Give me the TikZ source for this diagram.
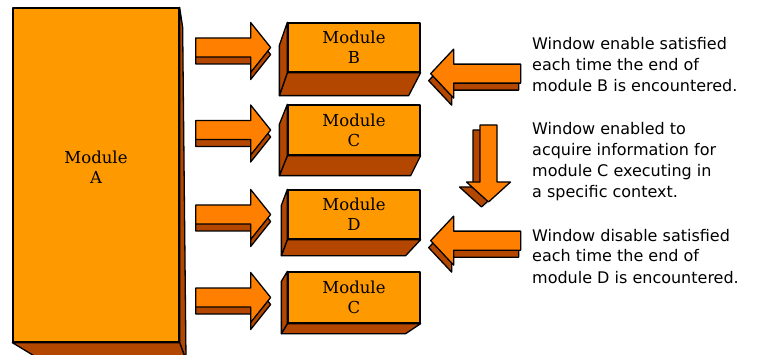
\documentclass[tikz,border=0pt]{standalone}
\usepackage{fontspec}
\setmainfont{DejaVu Serif}
\newfontfamily\notefont{DejaVu Sans}
\usetikzlibrary{calc}

\definecolor{modorange}{HTML}{FF9900}
\definecolor{arroworange}{HTML}{FF7F00}
\definecolor{shadeorange}{HTML}{B34700}

\begin{document}
\begin{tikzpicture}[
  x=1pt, y=-1pt,
  outline/.style={draw=black, line width=1.3pt, line join=round},
  face/.style={outline, fill=modorange, font=\fontsize{16.5}{20}\selectfont, align=center, inner sep=0pt},
  shade/.style={outline, fill=shadeorange},
  note/.style={font=\notefont\fontsize{16}{21}\selectfont, align=left, inner sep=0pt, anchor=base west},
  rightarr/.pic={
    \draw[shade, shift={(0,7)}] (0,-9.5) -- (55,-9.5) -- (55,-25) -- (75,0) -- (55,25) -- (55,9.5) -- (0,9.5) -- cycle;
    \draw[outline, fill=arroworange] (0,-9.5) -- (55,-9.5) -- (55,-25) -- (75,0) -- (55,25) -- (55,9.5) -- (0,9.5) -- cycle;
  },
  leftarr/.pic={
    \draw[shade, shift={(-2,7)}] (0,0) -- (23,-24.5) -- (23,-9.5) -- (90,-9.5) -- (90,9.5) -- (23,9.5) -- (23,24.5) -- cycle;
    \draw[outline, fill=arroworange] (0,0) -- (23,-24.5) -- (23,-9.5) -- (90,-9.5) -- (90,9.5) -- (23,9.5) -- (23,24.5) -- cycle;
  },
  downarr/.pic={
    \draw[shade, shift={(-7,5)}] (-8.5,0) -- (8.5,0) -- (8.5,57) -- (22,57) -- (0,77) -- (-22,57) -- (-8.5,57) -- cycle;
    \draw[outline, fill=arroworange] (-8.5,0) -- (8.5,0) -- (8.5,57) -- (22,57) -- (0,77) -- (-22,57) -- (-8.5,57) -- cycle;
  }
]
\useasboundingbox (0,0) rectangle (762,355);

% module A
\node[face, minimum width=166, minimum height=334] (A) at (96,175) {};
\node[font=\fontsize{16.5}{20}\selectfont, align=center] (Alabel) at ([yshift=8pt]A.center) {Module\\A};
\draw[shade] (A.north east) -- ++(3,20) -- (186,360) -- (A.south east) -- cycle;
\draw[shade] (A.south west) -- (A.south east) -- (186,360) -- (41,360) -- cycle;

% modules B, C, D, C
\node[face, minimum width=132, minimum height=49] (B) at (354,47.5) {Module\\B};
\draw[shade] (B.south west) -- (B.south east) -- ++(-12,23) -- ($(B.south west)+(-8,23)$) -- cycle;
\draw[shade] (B.north west) -- (B.south west) -- ++(-8,23) -- ($(B.north west)+(-8,23)$) -- cycle;
\node[face, minimum width=132, minimum height=50] (C) at (354,130) {Module\\C};
\draw[shade] (C.south west) -- (C.south east) -- ++(-10,20) -- ($(C.south west)+(-8,20)$) -- cycle;
\draw[shade] (C.north west) -- (C.south west) -- ++(-8,20) -- ($(C.north west)+(-8,20)$) -- cycle;
\node[face, minimum width=132, minimum height=49] (D) at (354,214.5) {Module\\D};
\draw[shade] (D.south west) -- (D.south east) -- ++(-15,16) -- ($(D.south west)+(-6,16)$) -- cycle;
\draw[shade] (D.north west) -- (D.south west) -- ++(-6,16) -- ($(D.north west)+(-6,16)$) -- cycle;
\node[face, minimum width=132, minimum height=51] (Cb) at (354,297.5) {Module\\C};
\draw[shade] (Cb.south west) -- (Cb.south east) -- ++(-15,10) -- ($(Cb.south west)+(-6,10)$) -- cycle;
\draw[shade] (Cb.north west) -- (Cb.south west) -- ++(-6,10) -- ($(Cb.north west)+(-6,10)$) -- cycle;

% block arrows
\pic at ($(A.east |- B.center)+(16,0)$) {rightarr};
\pic at ($(A.east |- C.center)+(16,0)$) {rightarr};
\pic at ($(A.east |- D.center)+(16,0)$) {rightarr};
\pic at ($(A.east |- Cb.center)+(16,0)$) {rightarr};
\pic at ($(B.south east)+(10,1)$) {leftarr};
\pic at ($(D.south east)+(10,1)$) {leftarr};
\pic at (488.5,125) {downarr};

% window notes (base = last line)
\node[note] (enableB) at (532,92) {Window enable satisfied\\each time the end of\\module B is encountered.};
\node[note] (acquireC) at (532,198) {Window enabled to\\acquire information for\\module C executing in\\a specific context.};
\node[note] (disableD) at (532,283) {Window disable satisfied\\each time the end of\\module D is encountered.};
\end{tikzpicture}
\end{document}
